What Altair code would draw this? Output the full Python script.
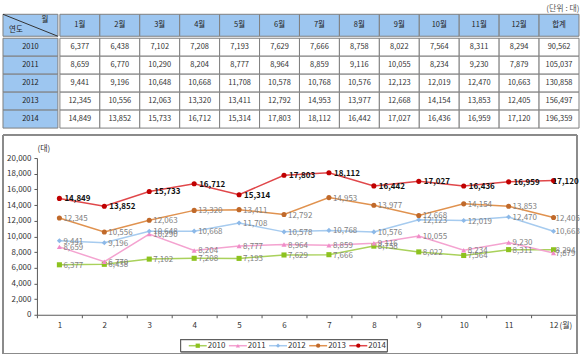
import altair as alt
import pandas as pd

# ---------------- data ----------------
years = ["2010", "2011", "2012", "2013", "2014"]
months = ["1", "2", "3", "4", "5", "6", "7", "8", "9", "10", "11", "12"]
col_labels = [m + "월" for m in months] + ["합계"]

v2010 = [6377, 6438, 7102, 7208, 7193, 7629, 7666, 8758, 8022, 7564, 8311, 8294]
v2011 = [8659, 6770, 10290, 8204, 8777, 8964, 8859, 9116, 10055, 8234, 9230, 7879]
v2012 = [9441, 9196, 10648, 10668, 11708, 10578, 10768, 10576, 12123, 12019, 12470, 10663]
v2013 = [12345, 10556, 12063, 13320, 13411, 12792, 14953, 13977, 12668, 14154, 13853, 12405]
v2014 = [14849, 13852, 15733, 16712, 15314, 17803, 18112, 16442, 17027, 16436, 16959, 17120]
totals = [90562, 105037, 130858, 156497, 196359]
y_ticks = [0, 2000, 4000, 6000, 8000, 10000, 12000, 14000, 16000, 18000, 20000]

series = {"2010": v2010, "2011": v2011, "2012": v2012, "2013": v2013, "2014": v2014}

line_colors = ["#A9D15B", "#F4A3D0", "#A6CBEF", "#E0924F", "#E0474A"]
marker_colors = ["#8DC21F", "#F08CC8", "#8DB9E8", "#C0692A", "#C00000"]
shapes = ["square", "triangle-up", "diamond", "circle", "circle"]

FONT = "Noto Sans CJK KR"
HEAD = "#9DC6F0"
GRID = "#808080"
BOX_W = 575
BOX_H = 219

# ---------------- table ----------------
rows = []
for i, y in enumerate(years):
    for lab, v in zip(col_labels, series[y] + [totals[i]]):
        rows.append({"year": y, "col": lab, "value": v})
tbl = pd.DataFrame(rows)
hdr_df = pd.DataFrame({"col": col_labels})
yr_df = pd.DataFrame({"year": years})

xcol = alt.X("col:N", sort=col_labels, axis=None,
             scale=alt.Scale(paddingInner=0, paddingOuter=0))
yrow = alt.Y("year:N", sort=years, axis=None,
             scale=alt.Scale(paddingInner=0, paddingOuter=0))

grid = alt.layer(
    alt.Chart(tbl).mark_rect(fill="white", stroke=GRID, strokeWidth=1).encode(x=xcol, y=yrow),
    alt.Chart(tbl).mark_text(font=FONT, fontSize=7.5, color="#333333").encode(
        x=xcol, y=yrow, text=alt.Text("value:Q", format=",d")),
).properties(width=520, height=90)

header = alt.layer(
    alt.Chart(hdr_df).mark_rect(fill=HEAD, stroke=GRID, strokeWidth=1).encode(x=xcol),
    alt.Chart(hdr_df).mark_text(font=FONT, fontSize=7.5, color="#222222").encode(
        x=xcol, text="col:N"),
).properties(width=520, height=22)

ycolumn = alt.layer(
    alt.Chart(yr_df).mark_rect(fill=HEAD, stroke=GRID, strokeWidth=1).encode(y=yrow),
    alt.Chart(yr_df).mark_text(font=FONT, fontSize=7.5, color="#222222").encode(
        y=yrow, text="year:N"),
).properties(width=55, height=90)

corner_df = pd.DataFrame({"a": ["월"], "b": ["연도"]})
corner = alt.layer(
    alt.Chart(corner_df).mark_rect(fill=HEAD, stroke=GRID, strokeWidth=1).encode(
        x=alt.value(0), x2=alt.value(55), y=alt.value(0), y2=alt.value(22)),
    alt.Chart(corner_df).mark_rule(color="#333333", strokeWidth=1).encode(
        x=alt.value(0), x2=alt.value(55), y=alt.value(0), y2=alt.value(22)),
    alt.Chart(corner_df).mark_text(font=FONT, fontSize=7.5, color="#222222").encode(
        x=alt.value(42), y=alt.value(6), text="a:N"),
    alt.Chart(corner_df).mark_text(font=FONT, fontSize=7.5, color="#222222").encode(
        x=alt.value(13), y=alt.value(16), text="b:N"),
).properties(width=55, height=22)

table = alt.vconcat(
    alt.hconcat(corner, header, spacing=0),
    alt.hconcat(ycolumn, grid, spacing=0),
    spacing=0,
    title=alt.TitleParams("(단위 : 대)", anchor="end", fontSize=8, font=FONT,
                          color="#555555", fontWeight="normal", offset=1),
)

# ---------------- line chart (view = the outer box) ----------------
lrows = []
for y in years:
    for m, v in zip(months, series[y]):
        lrows.append({"year": y, "month": m, "value": v})
ldf = pd.DataFrame(lrows)

xm = alt.X("month:N", sort=months,
           scale=alt.Scale(type="band", range=[34, 574], paddingInner=0, paddingOuter=0),
           axis=alt.Axis(title="(월)", labelAngle=0, tickBand="extent", tickSize=3,
                         offset=-39,
                         labelFontSize=8, labelColor="#333333", labelPadding=4,
                         domainColor="#595959", tickColor="#595959",
                         titleFontSize=8, titleFontWeight="normal", titleColor="#333333",
                         titleX=557, titleY=11, titleAlign="left", titleBaseline="middle"))
yv = alt.Y("value:Q", scale=alt.Scale(domain=[0, 20000], range=[180, 23]),
           axis=alt.Axis(values=y_ticks, format=",d", grid=False, offset=-34,
                         tickSize=3, labelFontSize=8, labelColor="#333333", labelPadding=3,
                         domainColor="#595959", tickColor="#595959",
                         title="(대)", titleAngle=0, titleAlign="left", titleBaseline="middle",
                         titleX=0, titleY=13, titleFontSize=8, titleFontWeight="normal",
                         titleColor="#333333"))

line_color = alt.Color("year:N", scale=alt.Scale(domain=years, range=line_colors), legend=None)
mark_fill = alt.Fill("year:N", scale=alt.Scale(domain=years, range=marker_colors), legend=None)
mark_shape = alt.Shape("year:N", scale=alt.Scale(domain=years, range=shapes), legend=None)

base = alt.Chart(ldf)
box = base.mark_rect(fill="transparent", stroke="#8C8C8C", strokeWidth=1).encode(
    x=alt.value(0), x2=alt.value(BOX_W), y=alt.value(0), y2=alt.value(BOX_H))


def labels(filt, dx, bold):
    return base.transform_filter(filt).mark_text(
        align="left", baseline="middle", dx=dx, dy=1, fontSize=8, font=FONT,
        fontWeight="bold" if bold else "normal",
        color="#111111" if bold else "#7F7F7F").encode(
        x=xm, y=yv, text=alt.Text("value:Q", format=",d"))


main = alt.layer(
    box,
    base.mark_line(strokeWidth=1.5).encode(x=xm, y=yv, color=line_color),
    base.mark_point(filled=True, size=26, opacity=1, strokeWidth=0).encode(
        x=xm, y=yv, fill=mark_fill, shape=mark_shape),
    labels("datum.year != '2014' && datum.month != '12'", 4, False),
    labels("datum.year != '2014' && datum.month == '12'", 2, False),
    labels("datum.year == '2014' && datum.month != '12'", 5, True),
    labels("datum.year == '2014' && datum.month == '12'", -1, True),
)

leg_df = pd.DataFrame({"year": years})
lx = alt.X("year:N", sort=years, axis=None,
           scale=alt.Scale(type="band", range=[175, 376], paddingInner=0, paddingOuter=0))
lbase = alt.Chart(leg_df)
LEG_Y = 211
legend = alt.layer(
    lbase.mark_rect(fill="white", stroke="#555555", strokeWidth=1).encode(
        x=alt.value(178), x2=alt.value(385), y=alt.value(205), y2=alt.value(217)),
    lbase.mark_tick(orient="horizontal", size=18, thickness=1.5, opacity=1).encode(
        x=lx, y=alt.value(LEG_Y), color=line_color),
    lbase.mark_point(filled=True, size=18, opacity=1, strokeWidth=0).encode(
        x=lx, y=alt.value(LEG_Y), fill=mark_fill, shape=mark_shape),
    lbase.mark_text(align="left", baseline="middle", dx=10, fontSize=8, font=FONT,
                    color="#333333").encode(x=lx, y=alt.value(LEG_Y), text="year:N"),
)

line_chart = alt.layer(main, legend).resolve_scale(x="independent").properties(
    width=BOX_W, height=BOX_H)

chart = alt.vconcat(table, line_chart, spacing=5).properties(
    padding={"left": 2, "top": 4, "right": 0, "bottom": 0},
).configure(font=FONT).configure_view(strokeWidth=0)

chart.save("out.html", embed_options={"renderer": "svg", "actions": False})
